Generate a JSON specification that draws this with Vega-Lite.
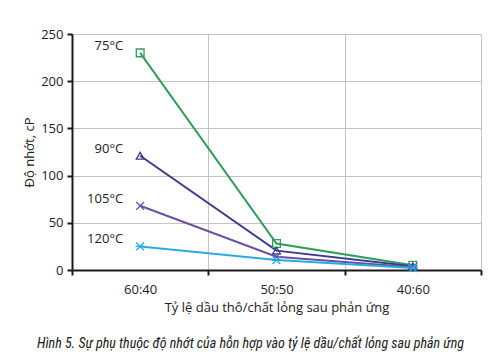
{
  "$schema": "https://vega.github.io/schema/vega-lite/v6.json",
  "autosize": "none",
  "width": 409,
  "height": 236,
  "padding": {"left": 72, "top": 34, "right": 12, "bottom": 90},
  "background": "white",
  "title": {
    "text": "Hình 5. Sự phụ thuộc độ nhớt của hỗn hợp vào tỷ lệ dầu/chất lỏng sau phản ứng",
    "orient": "bottom",
    "anchor": "middle",
    "offset": 23,
    "dx": -26,
    "font": "Liberation Sans Narrow, Roboto Condensed, Roboto",
    "fontStyle": "italic",
    "fontWeight": "normal",
    "fontSize": 14,
    "color": "#1a1a1a"
  },
  "config": {
    "view": {"stroke": null},
    "font": "Open Sans",
    "axis": {
      "labelFont": "Open Sans",
      "titleFont": "Open Sans",
      "labelFontSize": 13,
      "titleFontSize": 13,
      "titleFontWeight": "normal",
      "labelColor": "#222",
      "titleColor": "#222",
      "domainColor": "#1a1a1a",
      "domainWidth": 2,
      "tickColor": "#1a1a1a",
      "tickWidth": 2,
      "tickSize": 5,
      "gridColor": "#c4c4c4",
      "gridWidth": 1
    }
  },
  "data": {
    "values": [
      {"series": "75°C", "ratio": "60:40", "value": 230},
      {"series": "75°C", "ratio": "50:50", "value": 28},
      {"series": "75°C", "ratio": "40:60", "value": 5},
      {"series": "90°C", "ratio": "60:40", "value": 121},
      {"series": "90°C", "ratio": "50:50", "value": 20.5},
      {"series": "90°C", "ratio": "40:60", "value": 4},
      {"series": "105°C", "ratio": "60:40", "value": 68},
      {"series": "105°C", "ratio": "50:50", "value": 14},
      {"series": "105°C", "ratio": "40:60", "value": 3},
      {"series": "120°C", "ratio": "60:40", "value": 25},
      {"series": "120°C", "ratio": "50:50", "value": 10.5},
      {"series": "120°C", "ratio": "40:60", "value": 2}
    ]
  },
  "encoding": {
    "x": {
      "field": "ratio",
      "type": "nominal",
      "sort": ["60:40", "50:50", "40:60"],
      "scale": {"type": "band", "paddingInner": 0, "paddingOuter": 0},
      "axis": {
        "title": "Tỷ lệ dầu thô/chất lỏng sau phản ứng",
        "labelAngle": 0,
        "tickBand": "extent",
        "labelPadding": 8,
        "titlePadding": 5,
        "grid": true
      }
    },
    "y": {
      "field": "value",
      "type": "quantitative",
      "scale": {"domain": [0, 250], "nice": false},
      "axis": {
        "title": "Độ nhớt, cP",
        "values": [0, 50, 100, 150, 200, 250],
        "labelPadding": 4,
        "titlePadding": 4,
        "grid": true
      }
    },
    "color": {
      "field": "series",
      "type": "nominal",
      "scale": {
        "domain": ["75°C", "90°C", "105°C", "120°C"],
        "range": ["#2e9e5b", "#3b3b8f", "#6b4fa0", "#29abe2"]
      },
      "legend": null
    }
  },
  "layer": [
    {
      "mark": {"type": "line", "strokeWidth": 2},
      "encoding": {"detail": {"field": "series"}}
    },
    {
      "mark": {"type": "point", "filled": false, "strokeWidth": 1.3, "size": 60, "opacity": 1},
      "encoding": {
        "shape": {
          "field": "series",
          "type": "nominal",
          "scale": {
            "domain": ["75°C", "90°C", "105°C", "120°C"],
            "range": ["square", "triangle-up", "M-1,-1L1,1M-1,1L1,-1", "M-1,-1L1,1M-1,1L1,-1M-1.2,0L1.2,0"]
          },
          "legend": null
        }
      }
    },
    {
      "transform": [{"filter": "datum.ratio === '60:40'"}],
      "mark": {"type": "text", "align": "right", "baseline": "middle", "dx": -17, "dy": -7, "fontSize": 13, "font": "Open Sans", "color": "#222"},
      "encoding": {
        "text": {"field": "series"},
        "color": {"value": "#222"}
      }
    }
  ]
}
